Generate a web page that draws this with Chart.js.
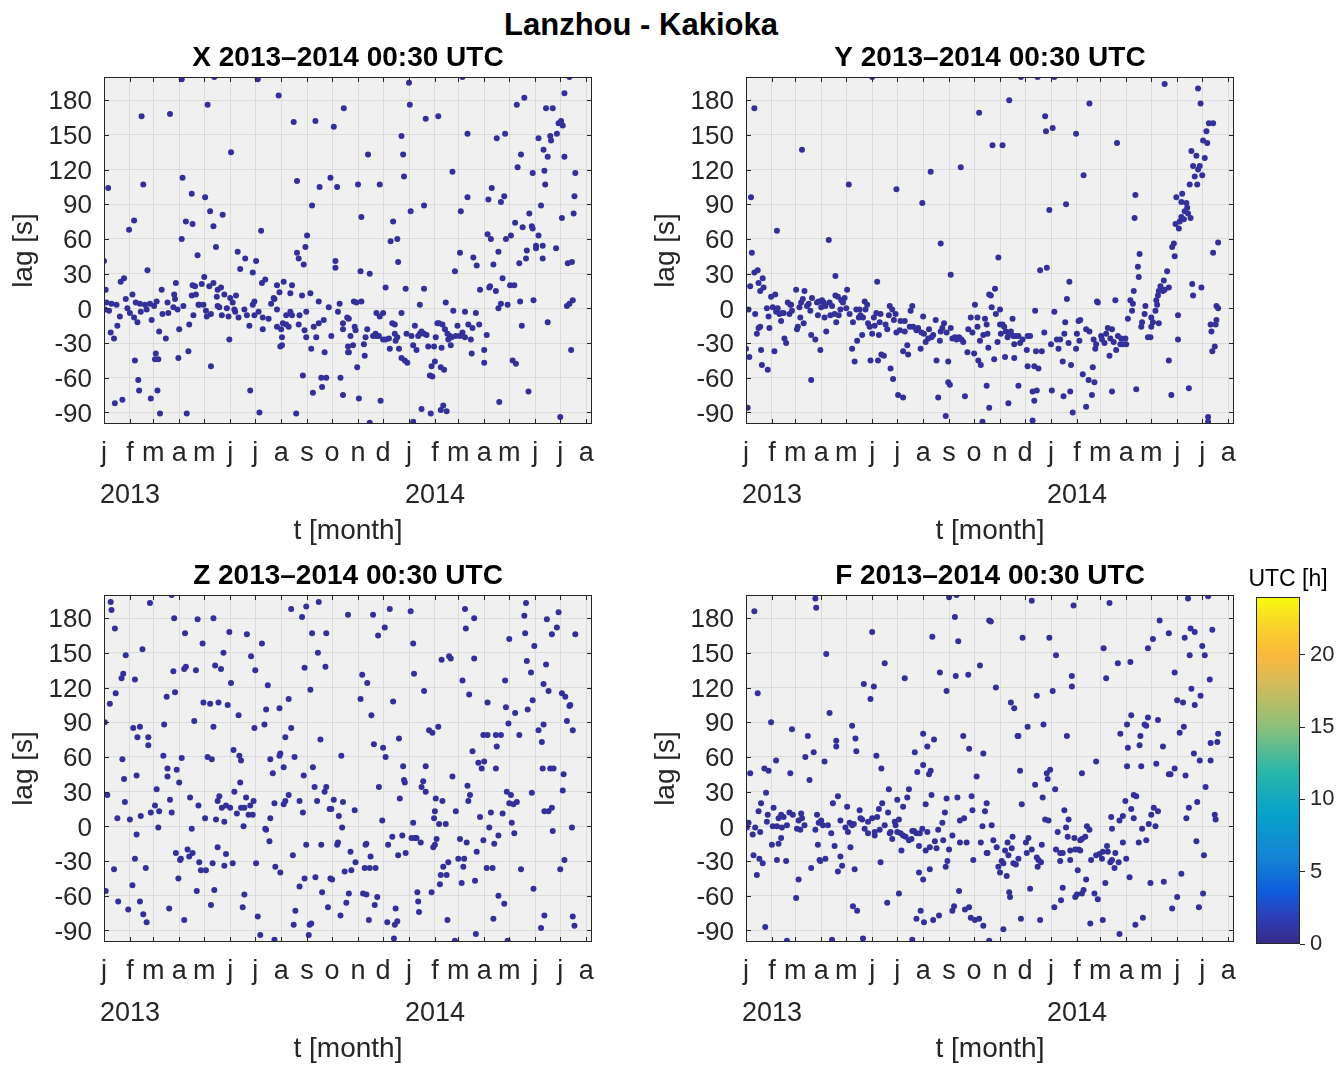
<!DOCTYPE html>
<html>
<head>
<meta charset="utf-8">
<script src="https://cdn.jsdelivr.net/npm/chart.js@4.4.0/dist/chart.umd.min.js"></script>
<style>
html, body { margin: 0; padding: 0; background: #fff; overflow: hidden; width: 1338px; height: 1066px; }
#title { position: absolute; left: 0; top: 9px; width: 1282px; text-align: center;
         font: bold 31px/31px "Liberation Sans", Arial, sans-serif; color: #000; }
canvas { position: absolute; }
</style>
</head>
<body>
<div id="title">Lanzhou - Kakioka</div>
<canvas id="cX" width="640" height="518" style="left:0px;top:37px"></canvas>
<canvas id="cY" width="640" height="518" style="left:642px;top:37px"></canvas>
<canvas id="cZ" width="640" height="518" style="left:0px;top:555px"></canvas>
<canvas id="cF" width="640" height="518" style="left:642px;top:555px"></canvas>
<canvas id="cBar" width="108" height="420" style="left:1230px;top:555px"></canvas>

<script type="text/JavaScript">

//------------------------------------------------------------------------------------------
// Data (x = days since 1 Jan 2013, y = lag in seconds), read off the figure
//------------------------------------------------------------------------------------------

var monthStarts  = [0, 31, 59, 90, 120, 151, 181, 212, 243, 273, 304, 334, 365, 396, 424, 455, 485, 516, 546, 577];
var monthLetters = ['j','f','m','a','m','j','j','a','s','o','n','d','j','f','m','a','m','j','j','a'];
var yearStarts   = [0, 365];
var yearLabels   = ['2013', '2014'];
var lagTicks     = [-90, -60, -30, 0, 30, 60, 90, 120, 150, 180];
var utcTicks     = [0, 5, 10, 15, 20];

var titles = ['X 2013\u20132014 00:30 UTC', 'Y 2013\u20132014 00:30 UTC', 'Z 2013\u20132014 00:30 UTC', 'F 2013\u20132014 00:30 UTC'];

var lagX = [[93,198],[132,200],[184,198],[209,184],[45,166],[79,168],[124,176],[227,161],[253,162],[275,157],[287,173],[152,135],[5,104],[47,107],[94,113],[105,99],[121,96],[127,84],[142,81],[131,71],[98,75],[106,73],[30,68],[36,76],[93,60],[188,67],[231,110],[258,105],[271,113],[279,105],[249,89],[243,63],[241,53],[231,48],[233,43],[239,38],[277,41],[277,35],[134,53],[112,46],[160,49],[169,43],[182,41],[163,34],[178,31],[52,33],[0,41],[2,16],[20,23],[24,26],[34,12],[3,5],[9,4],[15,3],[1,-1],[6,-2],[19,-7],[16,-15],[8,-21],[12,-26],[26,8],[28,0],[31,-4],[36,-8],[40,-12],[38,5],[43,4],[44,-3],[49,3],[51,-1],[55,4],[57,-10],[63,6],[69,16],[60,2],[70,-5],[66,-20],[74,-26],[77,-4],[76,5],[84,12],[85,8],[86,22],[83,1],[88,-1],[90,-18],[89,-43],[95,2],[102,-14],[101,-37],[105,11],[106,20],[109,19],[110,12],[107,-6],[113,3],[114,3],[117,21],[120,27],[119,3],[122,-2],[123,-7],[126,19],[131,22],[128,-5],[135,10],[136,16],[140,18],[136,2],[138,1],[141,-6],[144,12],[147,0],[149,-7],[151,9],[154,5],[158,11],[156,-1],[150,-27],[157,-3],[161,-8],[168,-1],[171,-6],[174,-15],[178,3],[180,6],[180,-6],[185,-3],[190,-8],[190,-18],[189,22],[193,25],[197,-9],[200,4],[203,9],[204,8],[207,-1],[210,14],[207,20],[215,23],[207,-16],[212,-18],[214,-13],[218,-14],[221,-16],[223,13],[225,20],[223,-3],[225,-6],[218,-6],[213,-25],[211,-33],[213,-32],[233,-14],[234,-6],[240,-19],[242,-3],[242,-25],[237,11],[247,13],[257,6],[248,-35],[254,-25],[251,-16],[257,-13],[263,-10],[264,-38],[269,1],[272,-24],[280,-3],[282,4],[286,-13],[286,-18],[291,-8],[292,-33],[292,-38],[37,-45],[41,-62],[42,-71],[13,-82],[22,-79],[56,-78],[62,-39],[61,-44],[65,-44],[64,-71],[67,-91],[99,-91],[128,-50],[175,-71],[186,-90],[230,-91],[238,-58],[250,-73],[260,-60],[266,-60],[261,-68],[283,-60],[286,-75],
  [429,200],[365,195],[366,176],[385,164],[400,166],[435,151],[356,149],[358,133],[316,133],[359,114],[304,107],[330,107],[308,79],[367,84],[383,89],[346,75],[343,58],[351,60],[352,40],[307,32],[318,30],[337,18],[361,17],[383,17],[378,3],[409,5],[417,118],[427,84],[435,96],[426,48],[420,32],[442,44],[446,37],[450,16],[460,94],[464,104],[475,92],[479,97],[459,64],[463,60],[472,49],[466,38],[461,18],[462,19],[469,15],[477,26],[486,20],[491,20],[472,0],[475,4],[483,3],[481,60],[487,63],[492,74],[495,122],[499,133],[494,176],[503,182],[470,147],[480,151],[501,70],[509,82],[512,71],[513,69],[520,63],[497,39],[505,43],[506,50],[517,54],[517,52],[525,54],[525,43],[513,117],[523,89],[527,119],[528,107],[531,131],[526,137],[520,147],[534,149],[535,145],[542,151],[544,160],[547,162],[549,158],[529,173],[537,173],[551,186],[557,200],[551,131],[564,117],[563,97],[562,82],[548,78],[541,52],[555,39],[560,40],[554,2],[557,4],[561,7],[514,7],[498,6],[500,-15],[531,-12],[559,-36],[546,-94],[508,-72],[473,-81],[489,-45],[493,-48],[455,-36],[455,-47],[458,-23],[440,-39],[423,-15],[421,-24],[426,-24],[429,-21],[432,-25],[436,-14],[439,-27],[441,-17],[445,-4],[449,-14],[432,-3],[418,-2],[414,-24],[416,-25],[415,-32],[412,-27],[411,-22],[408,-18],[405,-14],[401,-13],[399,-13],[397,-25],[395,-33],[404,-34],[396,-46],[392,-50],[403,-51],[407,-53],[390,-58],[393,-59],[388,-33],[386,-23],[380,-20],[383,-22],[378,-22],[376,-24],[374,-36],[370,-32],[372,-15],[368,-24],[363,-47],[360,-45],[356,-43],[353,-35],[351,-25],[349,-28],[348,-22],[345,-13],[348,-14],[342,-35],[337,-27],[341,-26],[334,-27],[329,-24],[326,-24],[325,-22],[322,-24],[315,-18],[313,-25],[311,-31],[312,-41],[303,-51],[301,-19],[300,-16],[295,-24],[293,-38],[298,-32],[330,-7],[326,-4],[334,-4],[356,-4],[362,-22],[302,5],[308,6],[299,6],[293,-9],[305,-78],[331,-80],[318,-99],[370,-98],[380,-87],[391,-91],[403,-88],[406,-84],[410,-89]];

var lagY = [[151,200],[10,173],[279,169],[67,137],[257,122],[221,118],[123,107],[6,96],[180,103],[211,91],[37,67],[99,59],[233,56],[7,48],[107,28],[245,29],[157,23],[10,31],[14,33],[15,22],[20,26],[21,18],[5,19],[17,15],[3,-1],[11,-5],[0,-35],[4,-42],[2,-86],[13,-22],[15,-17],[17,-16],[18,-36],[19,-49],[26,-53],[28,-17],[27,-7],[25,0],[30,10],[32,1],[35,12],[36,-3],[38,0],[40,-5],[42,-11],[43,-4],[45,-4],[34,-37],[46,-26],[48,-30],[50,5],[53,3],[52,-5],[55,-2],[54,3],[60,16],[61,-18],[62,-16],[64,1],[65,-8],[66,5],[68,8],[69,-13],[70,15],[73,2],[75,4],[77,-2],[78,-62],[78,-23],[79,9],[83,-27],[85,5],[86,-6],[87,6],[89,-36],[90,1],[91,7],[93,5],[94,-8],[95,2],[96,-20],[100,5],[101,-6],[103,2],[106,-5],[107,11],[108,-12],[110,10],[111,-6],[113,-1],[114,7],[116,5],[118,9],[120,0],[121,16],[124,-5],[127,-35],[128,-12],[130,-46],[132,-1],[133,-28],[135,-8],[136,-1],[137,-6],[139,-23],[140,-8],[142,6],[143,-1],[145,3],[146,-13],[148,-16],[149,-45],[151,-22],[153,-8],[154,-15],[156,-4],[158,-45],[159,-23],[160,-12],[161,-5],[162,-40],[165,-41],[167,-14],[169,-18],[171,-6],[172,2],[173,-52],[175,-1],[176,-61],[177,-10],[179,-5],[180,-21],[182,-75],[184,-19],[185,-11],[188,-77],[188,-37],[190,-20],[190,-11],[193,-32],[194,-40],[196,-16],[197,-2],[199,2],[200,-16],[204,-19],[206,-17],[209,-35],[210,-21],[212,-7],[213,-22],[215,-29],[218,-26],[219,-18],[222,-25],[224,-23],[227,-10],[228,-45],[230,-77],[232,-28],[233,-20],[235,-17],[237,-13],[239,-93],[240,-21],[242,-46],[242,-64],[244,-66],[245,-17],[247,-26],[250,-25],[252,-27],[255,-25],[258,-27],[260,-29],[262,-76],[265,-38],[266,-18],[269,-8],[271,-21],[273,-39],[274,3],[277,-8],[277,-16],[278,-45],[280,-28],[281,-49],[283,-98],[284,-23],[286,-9],[288,-14],[288,-67],[291,12],[291,-86],[290,-34],
  [329,200],[349,200],[369,200],[315,180],[501,194],[541,190],[544,177],[411,177],[358,166],[359,153],[367,156],[295,141],[307,141],[395,151],[444,143],[404,115],[363,85],[383,90],[466,98],[465,78],[302,44],[352,33],[360,35],[387,23],[384,8],[420,6],[421,5],[442,7],[346,-2],[369,-3],[471,47],[469,36],[470,27],[464,15],[460,7],[463,4],[462,-2],[457,-9],[474,-12],[473,-16],[477,-5],[478,2],[481,-25],[484,-25],[485,-8],[485,-16],[487,-12],[490,-2],[492,3],[494,-13],[491,7],[493,11],[494,15],[496,19],[499,15],[500,24],[501,16],[504,32],[506,18],[510,53],[512,56],[513,45],[517,-6],[517,-27],[506,-45],[509,-75],[530,-69],[514,73],[518,69],[519,75],[521,79],[524,77],[525,84],[528,87],[529,82],[532,78],[515,96],[522,99],[521,92],[527,91],[531,107],[533,136],[535,123],[537,114],[539,132],[540,107],[541,120],[543,123],[546,115],[547,145],[549,130],[552,143],[551,153],[554,160],[559,160],[534,21],[535,11],[545,18],[559,48],[565,57],[563,2],[565,0],[563,-10],[556,-14],[562,-14],[557,-20],[561,-33],[558,-37],[553,-94],[553,-98],
  [289,-22],[294,1],[298,17],[293,11],[299,-5],[304,-1],[304,-14],[305,-22],[307,-14],[309,-16],[311,-20],[313,-25],[315,-22],[317,-20],[319,-9],[320,-24],[321,-31],[323,-24],[326,-24],[328,-30],[331,-27],[336,-36],[337,-24],[340,-24],[301,-29],[297,-44],[310,-42],[321,-43],[337,-50],[345,-50],[350,-52],[357,-21],[347,-37],[354,-37],[365,-31],[372,-27],[374,-35],[376,-27],[379,-46],[381,-22],[386,-30],[389,-49],[382,-12],[395,-35],[396,-22],[399,-28],[398,-11],[400,-10],[403,-57],[407,-18],[410,-62],[411,-20],[417,-64],[415,-51],[416,-27],[418,-35],[419,-31],[425,-24],[426,-27],[429,-30],[431,-22],[433,-17],[435,-41],[436,-26],[438,-18],[440,-29],[443,-36],[445,-24],[448,-31],[449,-26],[451,-31],[454,-26],[455,-31],[326,-67],[343,-72],[348,-71],[345,-80],[366,-71],[380,-76],[388,-72],[391,-90],[407,-85],[414,-75],[438,-72],[467,-70],[343,-97],[314,-82]];

var lagZ = [[8,194],[9,187],[55,193],[81,200],[84,180],[112,179],[131,180],[13,171],[97,167],[46,153],[26,148],[150,168],[171,166],[118,158],[143,150],[133,139],[140,136],[98,138],[96,136],[110,135],[83,134],[23,132],[21,128],[37,127],[14,115],[7,106],[75,112],[85,116],[152,124],[119,107],[127,106],[137,107],[148,105],[161,96],[108,91],[72,88],[131,86],[1,90],[35,85],[43,86],[40,77],[53,77],[53,70],[155,66],[162,61],[164,57],[124,60],[129,58],[93,59],[71,61],[22,58],[39,44],[24,41],[76,50],[87,49],[76,43],[90,38],[163,38],[63,32],[4,27],[25,21],[79,23],[103,25],[113,18],[136,22],[138,26],[141,16],[146,18],[151,16],[156,30],[159,11],[164,16],[168,16],[170,25],[173,10],[175,18],[179,22],[178,10],[144,4],[134,6],[121,7],[81,12],[66,13],[56,12],[61,18],[44,9],[31,6],[16,7],[65,-1],[105,-2],[167,0],[39,-7],[86,-23],[92,-28],[91,-29],[100,-20],[102,-26],[106,-23],[114,-31],[116,-38],[122,-38],[130,-32],[136,-18],[146,-24],[144,-34],[154,-32],[37,-28],[50,-36],[12,-37],[89,-45],[34,-51],[2,-56],[17,-65],[29,-72],[43,-65],[47,-76],[51,-83],[78,-71],[96,-81],[111,-56],[128,-68],[132,-55],[168,-59],[166,-70],[182,-32],[184,-78],[187,-94],[204,-98],[193,-2],[194,-3],[198,-13],[199,7],[204,20],[205,-35],[211,-40],[215,19],[217,22],[221,27],[202,46],[199,58],[210,61],[211,63],[215,51],[228,60],[217,77],[224,85],[210,102],[194,101],[192,88],[180,85],[196,122],[181,135],[176,147],[189,158],[221,110],[224,188],[237,181],[242,190],[257,194],[249,167],[266,167],[256,150],[240,137],[265,138],[247,118],[259,75],[284,61],[250,51],[239,44],[238,12],[234,22],[252,34],[255,22],[264,30],[266,34],[270,15],[272,15],[275,23],[281,9],[286,21],[285,-1],[279,-16],[280,-14],[260,-16],[242,-16],[226,-25],[240,-45],[253,-44],[271,-45],[273,-46],[288,-39],[234,-52],[261,-57],[229,-73],[268,-70],[290,-66],[283,-77],[227,-85],[246,-85],[248,-84],[245,-94],[292,183],[293,-58],
  [322,183],[342,188],[367,186],[336,172],[328,165],[370,158],[432,188],[443,180],[433,171],[404,144],[413,147],[415,145],[443,145],[485,162],[505,193],[503,182],[504,167],[515,156],[530,179],[544,185],[542,172],[536,166],[564,166],[506,143],[529,140],[511,133],[480,126],[526,123],[532,117],[548,115],[552,112],[557,104],[558,105],[513,109],[507,101],[481,103],[492,98],[484,89],[497,79],[526,88],[520,83],[524,73],[554,91],[561,83],[309,131],[315,124],[307,110],[346,108],[320,96],[323,71],[334,68],[337,60],[353,76],[371,132],[383,117],[389,83],[393,81],[400,86],[429,126],[437,114],[459,107],[454,79],[459,79],[469,79],[475,79],[470,69],[441,65],[448,55],[455,56],[452,50],[469,50],[417,43],[435,35],[438,27],[436,22],[385,52],[382,39],[380,34],[385,30],[358,52],[359,40],[360,38],[354,24],[329,34],[300,14],[333,5],[370,3],[397,24],[405,22],[396,13],[395,7],[401,2],[409,2],[421,13],[450,8],[463,12],[477,11],[461,-1],[482,30],[487,27],[485,20],[490,19],[494,21],[512,29],[527,13],[532,13],[536,16],[549,31],[550,45],[525,50],[534,50],[538,50],[560,-1],[537,-4],[488,3],[491,-6],[472,-8],[467,-15],[454,-12],[446,-22],[426,-11],[434,-14],[301,-31],[295,-22],[296,-38],[313,-16],[314,-15],[319,-26],[312,-36],[318,-36],[325,-36],[310,-58],[314,-59],[327,-61],[324,-68],[317,-81],[339,-83],[348,-85],[351,-82],[349,-71],[347,-97],[340,-16],[345,-9],[357,-8],[361,-23],[352,-25],[368,-10],[372,-10],[374,-10],[379,-14],[394,-18],[396,-16],[398,-11],[412,-31],[406,-35],[403,-42],[410,-42],[402,-50],[424,-28],[431,-28],[430,-35],[428,-49],[444,-47],[458,-36],[465,-36],[499,-37],[546,-37],[551,-29],[514,-54],[472,-60],[479,-67],[375,-57],[376,-65],[377,-74],[392,-57],[411,-81],[466,-80],[420,-99],[445,-93],[483,-99],[527,-77],[523,-88],[561,-78],[563,-86]];

var lagF = [[10,186],[83,197],[84,189],[151,168],[96,149],[243,198],[252,200],[250,181],[254,160],[223,164],[291,178],[280,139],[251,130],[266,131],[232,133],[240,117],[190,128],[166,141],[141,123],[153,121],[149,110],[14,115],[100,98],[30,90],[55,84],[74,78],[127,87],[131,76],[132,65],[108,74],[108,69],[81,64],[71,60],[94,56],[36,57],[22,50],[27,48],[5,46],[53,46],[76,40],[156,61],[162,50],[212,80],[217,69],[212,53],[205,47],[202,64],[219,45],[221,48],[225,75],[260,78],[267,67],[284,63],[276,43],[171,32],[195,32],[193,25],[181,23],[222,27],[215,19],[240,24],[253,25],[270,26],[271,14],[286,13],[288,20],[238,12],[235,3],[256,5],[261,7],[283,0],[24,29],[18,20],[15,13],[26,10],[25,4],[33,16],[3,3],[1,-1],[11,-1],[8,-7],[17,-5],[32,0],[37,0],[39,7],[42,10],[45,8],[43,-1],[49,1],[52,12],[56,10],[61,-2],[63,5],[66,11],[67,7],[70,1],[65,-3],[85,10],[83,-3],[87,3],[90,5],[92,1],[98,1],[102,-6],[104,20],[110,26],[113,5],[121,17],[119,-1],[122,-5],[125,-18],[124,3],[127,1],[129,2],[136,14],[137,7],[139,6],[142,-2],[146,4],[146,-6],[151,7],[154,-5],[154,-8],[157,8],[159,15],[163,20],[160,-3],[166,1],[170,12],[172,-6],[173,-5],[175,-11],[178,4],[179,1],[183,6],[181,-5],[185,-6],[188,17],[186,-21],[188,-8],[191,-9],[195,-12],[198,-11],[199,-4],[201,-4],[204,-6],[207,-17],[208,-6],[211,-2],[215,-21],[217,-5],[220,-18],[226,-13],[228,-19],[230,-3],[236,-12],[243,-20],[247,-8],[256,-14],[264,-14],[272,-29],[281,-14],[288,-23],[9,-25],[13,-42],[16,-28],[20,-32],[31,-16],[37,-29],[39,-15],[48,-30],[42,-10],[63,-46],[60,-62],[78,-36],[86,-16],[88,-29],[89,-30],[95,-28],[106,-17],[110,-39],[113,-26],[115,-34],[130,-37],[128,-69],[133,-73],[161,-31],[169,-66],[183,-58],[207,-40],[212,-46],[209,-73],[204,-80],[213,-83],[220,-37],[224,-81],[231,-77],[239,-35],[241,-30],[255,-56],[247,-73],[249,-69],[262,-72],[267,-70],[269,-79],[274,-81],[279,-80],[284,-86],[23,-87],[49,-99],[103,-98],[140,-97],[199,-98],[291,-99],
  [342,195],[392,191],[435,193],[293,177],[331,163],[363,163],[371,148],[428,154],[445,141],[460,142],[390,130],[390,121],[431,128],[299,120],[348,113],[367,117],[317,107],[321,102],[337,86],[356,88],[325,78],[326,78],[384,78],[328,48],[360,46],[364,49],[361,41],[346,36],[402,46],[419,56],[370,32],[355,25],[330,19],[294,1],[381,14],[386,6],[358,6],[362,5],[383,-1],[373,-5],[385,-9],[393,-10],[402,-11],[406,-9],[408,0],[411,-3],[400,-12],[398,-20],[400,-21],[394,-20],[388,-21],[376,-23],[379,-23],[371,-20],[376,-30],[388,-29],[397,-38],[407,-46],[417,-58],[421,-63],[394,-61],[396,-59],[402,-58],[404,-55],[379,-53],[377,-64],[369,-70],[352,-81],[329,-80],[308,-89],[412,-84],[427,-81],[447,-93],[466,-85],[475,-79],[413,-29],[419,-25],[423,-24],[426,-28],[427,-22],[432,-17],[433,-22],[436,-31],[438,-29],[441,-36],[442,-23],[446,-31],[430,-49],[451,-14],[455,-28],[459,-44],[438,-2],[437,8],[447,5],[451,9],[461,15],[464,7],[454,22],[464,27],[467,26],[470,-14],[474,-2],[479,-12],[482,2],[485,10],[488,16],[493,13],[490,0],[484,-49],[500,-48],[521,-41],[516,-61],[510,-71],[542,-70],[547,-58],[548,-25],[539,-13],[527,7],[530,16],[540,21],[550,34],[561,10],[562,6],[456,52],[473,52],[491,54],[457,68],[448,80],[456,88],[461,96],[471,70],[472,78],[477,88],[479,87],[481,94],[493,92],[499,69],[506,45],[508,45],[513,50],[526,44],[536,63],[543,57],[556,57],[556,72],[564,73],[565,80],[519,81],[524,86],[516,109],[523,107],[537,105],[533,119],[544,113],[555,127],[513,133],[531,148],[549,148],[546,156],[506,167],[487,162],[481,154],[495,178],[525,163],[532,171],[537,168],[558,170],[529,197],[553,199],
  [296,-12],[300,-18],[302,-35],[304,-40],[306,-30],[308,-32],[310,-21],[312,-43],[313,-14],[314,-25],[315,-57],[316,-61],[318,-19],[320,-32],[319,-9],[323,-33],[326,-28],[289,-23],
  [335,-14],[336,-23],[338,-10],[342,-20],[348,-27],[349,-35],[350,-29],[353,-31],[354,-16],[340,-54]];

//------------------------------------------------------------------------------------------
// Styling
//------------------------------------------------------------------------------------------

var FONT = '"Liberation Sans", Arial, sans-serif';
var AXIS_COLOR = '#262626';
var POINT_COLOR = '#33309a';
var DAY_MAX = 584;

// parula colour stops for the colour bar
var parulaStops = [[0, '#352a87'], [0.08, '#2c3fb8'], [0.15, '#0f5cdd'], [0.25, '#1485d4'], [0.375, '#06a2ca'],
                   [0.5, '#2ab7a9'], [0.625, '#8cc07a'], [0.75, '#d4bb5a'], [0.83, '#fbb83d'], [0.92, '#f8d42a'], [1, '#f9fb0e']];

// axes background, box, inner ticks, titles and year labels the MATLAB way
var matlabAxes = {
    id: 'matlabAxes',
    beforeDraw: function(chart, args, o) {
        var a = chart.chartArea, ctx = chart.ctx;
        ctx.save();
        if (o.gradient) {
            var g = ctx.createLinearGradient(0, a.bottom, 0, a.top);
            parulaStops.forEach(function(s) { g.addColorStop(s[0], s[1]); });
            ctx.fillStyle = g;
        } else {
            ctx.fillStyle = '#f0f0f0';
        }
        ctx.fillRect(a.left, a.top, a.right - a.left, a.bottom - a.top);
        ctx.restore();
    },
    afterDraw: function(chart, args, o) {
        var a = chart.chartArea, ctx = chart.ctx;
        ctx.save();
        ctx.strokeStyle = AXIS_COLOR;
        ctx.lineWidth = 1;
        ctx.strokeRect(a.left + 0.5, a.top + 0.5, a.right - a.left - 1, a.bottom - a.top - 1);
        if (o.innerTicks) {
            var tl = 5;
            ctx.beginPath();
            chart.scales.x.ticks.forEach(function(t) {
                var px = Math.round(chart.scales.x.getPixelForValue(t.value)) + 0.5;
                ctx.moveTo(px, a.top); ctx.lineTo(px, a.top + tl);
                ctx.moveTo(px, a.bottom); ctx.lineTo(px, a.bottom - tl);
            });
            chart.scales.y.ticks.forEach(function(t) {
                var py = Math.round(chart.scales.y.getPixelForValue(t.value)) + 0.5;
                ctx.moveTo(a.left, py); ctx.lineTo(a.left + tl, py);
                ctx.moveTo(a.right, py); ctx.lineTo(a.right - tl, py);
            });
            ctx.stroke();
        }
        if (o.title) {
            ctx.fillStyle = '#000';
            ctx.font = o.titleFont;
            ctx.textAlign = 'center';
            ctx.textBaseline = 'alphabetic';
            ctx.fillText(o.title, (a.left + a.right) / 2 + (o.titleShift || 0), a.top - o.titleGap);
        }
        if (o.years) {
            ctx.fillStyle = AXIS_COLOR;
            ctx.font = '27px ' + FONT;
            ctx.textAlign = 'left';
            ctx.textBaseline = 'alphabetic';
            for (var i = 0; i < yearStarts.length; i++) {
                ctx.fillText(yearLabels[i], chart.scales.x.getPixelForValue(yearStarts[i]) - 4, a.bottom + 79);
            }
        }
        ctx.restore();
    }
};

//------------------------------------------------------------------------------------------
function makePanel(id, title, points) {
    new Chart(document.getElementById(id), {
        type: 'scatter',
        data: {
            datasets: [{
                data: points.map(function(p) { return {x: p[0], y: p[1]}; }),
                backgroundColor: POINT_COLOR,
                borderWidth: 0,
                pointRadius: 3,
                pointHoverRadius: 3,
                clip: 0
            }]
        },
        options: {
            responsive: false,
            animation: false,
            events: [],
            layout: { padding: { top: 40, right: 48, left: 0, bottom: 0 } },
            plugins: {
                legend: { display: false },
                tooltip: { enabled: false },
                matlabAxes: { innerTicks: true, years: true, title: title, titleFont: 'bold 28px ' + FONT, titleGap: 11 }
            },
            scales: {
                x: {
                    type: 'linear', min: 0, max: DAY_MAX,
                    afterBuildTicks: function(s) { s.ticks = monthStarts.map(function(v) { return {value: v}; }); },
                    afterFit: function(s) { s.height = 131; },
                    grid: { color: '#dbdbdb', lineWidth: 1, drawTicks: false },
                    border: { display: false },
                    ticks: {
                        autoSkip: false, maxRotation: 0, padding: 13, color: AXIS_COLOR,
                        font: { family: FONT, size: 27 },
                        callback: function(v, i) { return monthLetters[i]; }
                    },
                    title: { display: true, text: 't [month]', color: AXIS_COLOR,
                             font: { family: FONT, size: 28 }, padding: { top: 0, bottom: 7 } }
                },
                y: {
                    min: -100, max: 200,
                    afterBuildTicks: function(s) { s.ticks = lagTicks.map(function(v) { return {value: v}; }); },
                    afterFit: function(s) { s.width = 104; },
                    grid: { color: '#dbdbdb', lineWidth: 1, drawTicks: false },
                    border: { display: false },
                    ticks: { padding: 12, labelOffset: 2, color: AXIS_COLOR, font: { family: FONT, size: 26 } },
                    title: { display: true, text: 'lag [s]', color: AXIS_COLOR,
                             font: { family: FONT, size: 28 }, padding: { top: 7, bottom: 0 } }
                }
            }
        },
        plugins: [matlabAxes]
    });
}

makePanel('cX', titles[0], lagX);
makePanel('cY', titles[1], lagY);
makePanel('cZ', titles[2], lagZ);
makePanel('cF', titles[3], lagF);

// colour bar for the UTC hour
new Chart(document.getElementById('cBar'), {
    type: 'scatter',
    data: { datasets: [{ data: [] }] },
    options: {
        responsive: false,
        animation: false,
        events: [],
        layout: { padding: { top: 42, right: 0, left: 26, bottom: 31 } },
        plugins: {
            legend: { display: false },
            tooltip: { enabled: false },
            matlabAxes: { gradient: true, title: 'UTC [h]', titleFont: '23px ' + FONT, titleGap: 11, titleShift: 10 }
        },
        scales: {
            x: { display: false, min: 0, max: 1 },
            y: {
                position: 'right', min: 0, max: 24,
                afterBuildTicks: function(s) { s.ticks = utcTicks.map(function(v) { return {value: v}; }); },
                afterFit: function(s) { s.width = 38; },
                grid: { drawOnChartArea: false, drawTicks: true, tickLength: 5, color: AXIS_COLOR },
                border: { display: false },
                ticks: { padding: 5, color: AXIS_COLOR, font: { family: FONT, size: 22 } }
            }
        }
    },
    plugins: [matlabAxes]
});

</script>
</body>
</html>
